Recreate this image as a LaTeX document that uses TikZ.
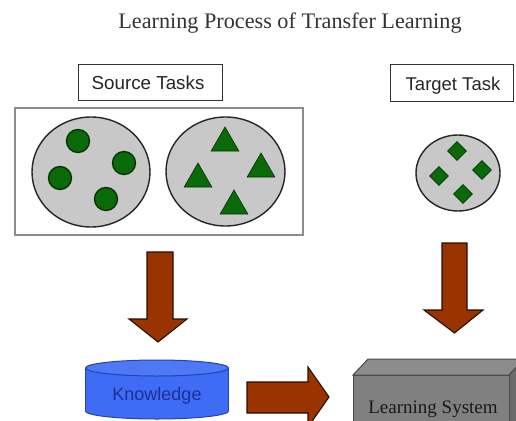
\documentclass[tikz,border=0pt]{standalone}
\usepackage{fontspec}
\setmainfont{Liberation Serif}
\newfontfamily\arialf{Liberation Sans}
\usetikzlibrary{shapes.geometric}

\definecolor{rust}{HTML}{993300}
\definecolor{rustline}{HTML}{2A0E00}
\definecolor{taskgray}{HTML}{C8C8C8}
\definecolor{leaf}{HTML}{0A6A0A}
\definecolor{leafline}{HTML}{023002}
\definecolor{kblue}{HTML}{3F6CF5}
\definecolor{kline}{HTML}{2443B0}
\definecolor{ktext}{HTML}{1C2F96}

\tikzset{
  labelbox/.style={draw=black!80, line width=1pt, fill=white},
  taskset/.style={ellipse, draw=black!85, line width=1.4pt, fill=taskgray, inner sep=0pt},
  dot/.style={circle, draw=leafline, line width=1.3pt, fill=leaf, minimum size=23pt, inner sep=0pt},
  tri/.style={regular polygon, regular polygon sides=3, fill=leaf, draw=leafline, line width=0.6pt, minimum size=32pt, inner sep=0pt},
  gem/.style={diamond, fill=leaf, draw=leafline, line width=0.6pt, minimum size=19pt, inner sep=0pt},
  blockarrow/.style={fill=rust, draw=rustline, line width=1.1pt, line join=miter},
}

\begin{document}
\begin{tikzpicture}[x=1pt,y=-1pt]
  \clip (0,0) rectangle (516,420);
  \fill[white] (0,0) rectangle (516,420);

  % title
  \node[anchor=base, font=\fontsize{22.2}{26}\selectfont, text=black!80] (title) at (290,29) {Learning Process of Transfer Learning};

  % task labels
  \draw[labelbox] (78,64) rectangle (222,100);
  \node[anchor=base, font=\arialf\fontsize{18.8}{22}\selectfont, text=black!85] (srclabel) at (148,89) {Source Tasks};
  \draw[labelbox] (390,64) rectangle (513,101);
  \node[anchor=base, font=\arialf\fontsize{18.5}{22}\selectfont, text=black!85] (tgtlabel) at (453,90) {Target Task};

  % frame round the source tasks
  \draw[draw=black!45, line width=1.1pt] (15,108) rectangle (303,235);

  % source task with round items
  \node[taskset, minimum width=118pt, minimum height=110pt] (srcA) at (91,172) {};
  \node[dot] (a1) at (78,141) {};
  \node[dot] (a2) at (124,163) {};
  \node[dot] (a3) at (60,178) {};
  \node[dot] (a4) at (106,199) {};

  % source task with triangles
  \node[taskset, minimum width=119pt, minimum height=109pt] (srcB) at (225.5,171.5) {};
  \node[tri] (b1) at (225,143) {};
  \node[tri] (b2) at (261,169) {};
  \node[tri] (b3) at (198,179) {};
  \node[tri] (b4) at (234,206) {};

  % target task with diamonds
  \node[taskset, minimum width=84pt, minimum height=76pt] (tgt) at (458,173) {};
  \node[gem] (c1) at (457,151) {};
  \node[gem] (c2) at (482,170) {};
  \node[gem] (c3) at (439,176) {};
  \node[gem] (c4) at (463,194) {};

  % block arrows
  \draw[blockarrow] (147,252) -- (173,252) -- (173,319) -- (187,319) -- (158,342)
        -- (129,319) -- (147,319) -- cycle;
  \draw[blockarrow] (442,243) -- (467,243) -- (467,310) -- (483,310) -- (454.5,333)
        -- (424,310) -- (442,310) -- cycle;
  \draw[blockarrow] (247,382) -- (308,382) -- (308,367) -- (329,397) -- (308,427)
        -- (308,413) -- (247,413) -- cycle;

  % knowledge store
  \filldraw[fill=kblue, draw=kline, line width=1pt] (157,411) ellipse [x radius=71.5, y radius=8];
  \fill[kblue] (85.5,368) rectangle (228.5,411);
  \draw[kline, line width=1pt] (85.5,368) -- (85.5,411) (228.5,368) -- (228.5,411);
  \filldraw[fill=kblue!92!white, draw=kline, line width=1pt] (157,368) ellipse [x radius=71.5, y radius=8];
  \node[anchor=base, font=\arialf\fontsize{18}{21}\selectfont, text=ktext] (knowledge) at (157,400) {Knowledge};

  % learning system block
  \filldraw[fill=black!45, draw=black!70, line width=1pt] (353,375) -- (368,359) -- (524,359) -- (509,375) -- cycle;
  \filldraw[fill=black!58, draw=black!70, line width=1pt] (509,375) -- (524,359) -- (524,440) -- (509,440) -- cycle;
  \filldraw[fill=black!50, draw=black!70, line width=1pt] (353,375) rectangle (509,440);
  \node[anchor=base, font=\fontsize{19}{22}\selectfont, text=black!90] (learner) at (433,413) {Learning System};
\end{tikzpicture}
\end{document}
